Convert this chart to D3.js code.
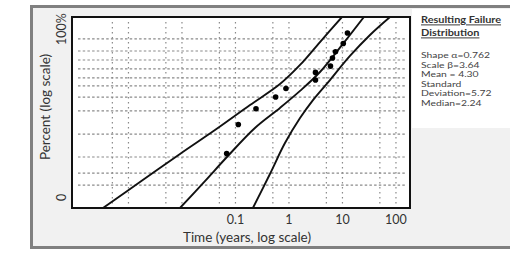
<!DOCTYPE html>
<html>
<head>
<meta charset="utf-8">
<script src="https://cdn.jsdelivr.net/npm/d3@7"></script>
<style>
  body { margin: 0; background: #ffffff; }
  svg { display: block; }
</style>
</head>
<body>
<script>
// Chart data (time in years, probability in plot units 0..100)
const pointTimes = [0.0685, 0.113, 0.242, 0.564, 0.879, 3.13, 3.13, 5.97, 6.5, 7.4, 10.35, 12.4];
const pointPercents = [28.5, 43.7, 52.0, 58.1, 62.6, 71.0, 67.0, 74.3, 78.5, 81.8, 86.1, 91.6];

const upperTimes = [0.000334, 0.00164, 0.00918, 0.0414, 0.187, 0.679, 1.61, 3.80, 9.79];
const upperPercents = [0, 13.6, 28.3, 40.8, 53.9, 64.9, 74.9, 86.9, 100];

const fitTimes = [0.00918, 0.0269, 0.0693, 0.231, 0.679, 1.61, 3.80, 10.2, 25.2];
const fitPercents = [0, 14.1, 26.7, 41.9, 52.4, 61.3, 71.2, 85.9, 100];

const lowerTimes = [0.212, 0.441, 0.842, 1.61, 2.81, 5.84, 13.8, 32.7, 77.3];
const lowerPercents = [0, 17.8, 34.0, 47.1, 56.5, 67.0, 79.6, 90.6, 100];

const xTicks = [0.1, 1, 10, 100];
const xGrid = [0.0005, 0.001, 0.005, 0.01, 0.05, 0.1, 0.5, 1, 5, 10, 50, 100];
const yGrid = [12.0, 18.3, 26.7, 38.7, 50.8, 58.1, 63.9, 68.1, 72.8, 77.5, 82.2, 88.5];
const yLabels = [{ value: 5.5, text: "0" }, { value: 93.7, text: "100%" }];

const titleLines = ["Resulting Failure", "Distribution"];
const statLines = ["Shape \u03b1=0.762", "Scale \u03b2=3.64", "Mean = 4.30", "Standard", "Deviation=5.72", "Median=2.24"];

// Dimensions
const width = 510;
const height = 262;
const plot = { left: 72, top: 17, right: 410, bottom: 208 };

const svg = d3.select("body")
    .append("svg")
    .attr("width", width)
    .attr("height", height)
    .style("font-family", "Lato, 'Open Sans', sans-serif");

// Outer grey frame
svg.append("rect")
    .attr("x", 31.5)
    .attr("y", 6.5)
    .attr("width", 490)
    .attr("height", 241)
    .attr("fill", "#f1f1f1")
    .attr("stroke", "#808080")
    .attr("stroke-width", 3);

// Info panel on the right
svg.append("rect")
    .attr("x", 412)
    .attr("y", 9)
    .attr("width", 100)
    .attr("height", 119)
    .attr("fill", "#ffffff");

// Scales
const x = d3.scaleLog()
    .domain([8.8e-5, 183])
    .range([plot.left, plot.right]);

const y = d3.scaleLinear()
    .domain([0, 100])
    .range([plot.bottom, plot.top]);

// Plot background
svg.append("rect")
    .attr("x", plot.left)
    .attr("y", plot.top)
    .attr("width", plot.right - plot.left)
    .attr("height", plot.bottom - plot.top)
    .attr("fill", "#ffffff");

// Dotted grid
svg.append("g")
    .selectAll("line")
    .data(yGrid)
    .enter().append("line")
    .attr("x1", plot.left + 6)
    .attr("x2", plot.right - 4)
    .attr("y1", d => y(d))
    .attr("y2", d => y(d))
    .attr("stroke", "#8a8a8a")
    .attr("stroke-width", 1.2)
    .attr("stroke-dasharray", "2.5,2.2");

svg.append("g")
    .selectAll("line")
    .data(xGrid)
    .enter().append("line")
    .attr("x1", d => x(d))
    .attr("x2", d => x(d))
    .attr("y1", plot.top + 5)
    .attr("y2", plot.bottom - 2)
    .attr("stroke", "#8a8a8a")
    .attr("stroke-width", 1.2)
    .attr("stroke-dasharray", "1.5,3.5");

// Clip the curves to the plot
svg.append("defs").append("clipPath")
    .attr("id", "plot-clip")
    .append("rect")
    .attr("x", plot.left)
    .attr("y", plot.top)
    .attr("width", plot.right - plot.left)
    .attr("height", plot.bottom - plot.top);

const line = d3.line()
    .x(d => x(d[0]))
    .y(d => y(d[1]))
    .curve(d3.curveCatmullRom.alpha(0.5));

const curves = [
    d3.zip(upperTimes, upperPercents),
    d3.zip(fitTimes, fitPercents),
    d3.zip(lowerTimes, lowerPercents)
];

svg.append("g")
    .attr("clip-path", "url(#plot-clip)")
    .selectAll("path")
    .data(curves)
    .enter().append("path")
    .attr("d", line)
    .attr("fill", "none")
    .attr("stroke", "#111111")
    .attr("stroke-width", 1.9);

// Data points
svg.append("g")
    .selectAll("circle")
    .data(d3.zip(pointTimes, pointPercents))
    .enter().append("circle")
    .attr("cx", d => x(d[0]))
    .attr("cy", d => y(d[1]))
    .attr("r", 2.8)
    .attr("fill", "#000000");

// Plot border
svg.append("rect")
    .attr("x", plot.left)
    .attr("y", plot.top)
    .attr("width", plot.right - plot.left)
    .attr("height", plot.bottom - plot.top)
    .attr("fill", "none")
    .attr("stroke", "#111111")
    .attr("stroke-width", 2);

// X tick labels
svg.append("g")
    .selectAll("text")
    .data(xTicks)
    .enter().append("text")
    .attr("x", d => x(d))
    .attr("y", 224)
    .attr("text-anchor", "middle")
    .attr("font-size", 12.5)
    .attr("fill", "#333333")
    .text(d => d);

// Y labels (rotated)
svg.append("g")
    .selectAll("text")
    .data(yLabels)
    .enter().append("text")
    .attr("transform", d => `translate(66, ${y(d.value)}) rotate(-90)`)
    .attr("text-anchor", "middle")
    .attr("font-size", 12.5)
    .attr("fill", "#333333")
    .text(d => d.text);

// Axis titles
svg.append("text")
    .attr("x", 247)
    .attr("y", 242)
    .attr("text-anchor", "middle")
    .attr("font-size", 13.5)
    .attr("fill", "#333333")
    .text("Time (years, log scale)");

svg.append("text")
    .attr("transform", "translate(50, 107) rotate(-90)")
    .attr("text-anchor", "middle")
    .attr("font-size", 13.5)
    .attr("fill", "#333333")
    .text("Percent (log scale)");

// Panel text, slightly stretched sideways like the source
const panel = svg.append("g")
    .attr("transform", "translate(421, 0) scale(1.15, 1)");

panel.append("g")
    .selectAll("text")
    .data(titleLines)
    .enter().append("text")
    .attr("x", 0)
    .attr("y", (d, i) => 23.5 + i * 13)
    .attr("font-size", 9.5)
    .attr("font-weight", "bold")
    .attr("text-decoration", "underline")
    .attr("fill", "#333333")
    .text(d => d);

panel.append("g")
    .selectAll("text")
    .data(statLines)
    .enter().append("text")
    .attr("x", 0)
    .attr("y", (d, i) => 58.5 + i * 9.5)
    .attr("font-size", 8.2)
    .attr("fill", "#444444")
    .attr("transform", "scale(1.1, 1)")
    .text(d => d);
</script>
</body>
</html>
